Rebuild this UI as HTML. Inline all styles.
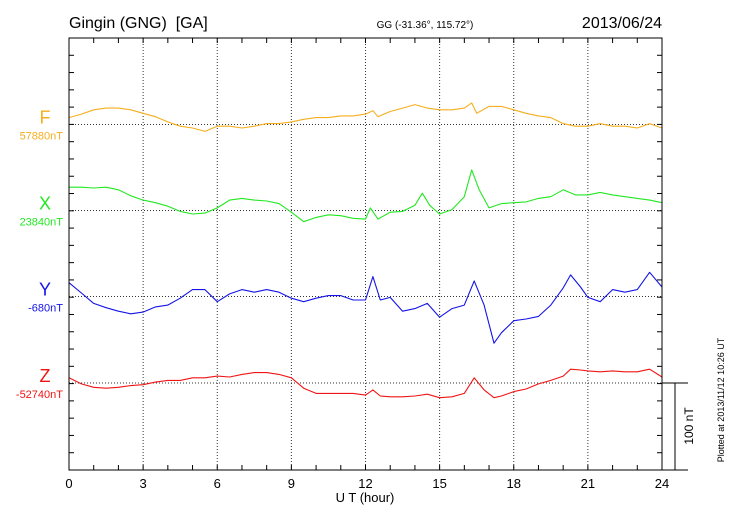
<!DOCTYPE html>
<html><head><meta charset="utf-8"><style>
body{margin:0;background:#fff;}
svg{display:block;font-family:"Liberation Sans",sans-serif;}
text{white-space:pre;}
</style></head><body>
<svg id="chart" width="730" height="520" viewBox="0 0 730 520" xmlns="http://www.w3.org/2000/svg">
<rect width="730" height="520" fill="#fff"/>
<text x="69" y="28" font-size="16" xml:space="preserve">Gingin (GNG)  [GA]</text>
<text x="425" y="28" font-size="10" text-anchor="middle">GG (-31.36°, 115.72°)</text>
<text x="662" y="28" font-size="16" text-anchor="end">2013/06/24</text>
<text x="365" y="502" font-size="13" text-anchor="middle">U T (hour)</text>
<text transform="translate(724,400) rotate(-90)" font-size="9" text-anchor="middle">Plotted at 2013/11/12 10:26 UT</text>
<text transform="translate(693,426) rotate(-90)" font-size="12" text-anchor="middle">100 nT</text>
<g id="grid"></g><g id="series"></g><g id="axes"></g>
</svg>
<script>
const hoursTicks = ["0","3","6","9","12","15","18","21","24"];
const seriesNames = ["F","X","Y","Z"];
const baseLabels = ["57880nT","23840nT","-680nT","-52740nT"];
const fTimes = [0,0.5,1,1.5,2,2.5,3,3.5,4,4.5,5,5.5,6,6.5,7,7.5,8,8.5,9,9.5,10,10.5,11,11.5,12,12.3,12.5,13,13.5,14,14.5,15,15.5,16,16.3,16.5,17,17.5,18,18.5,19,19.5,20,20.5,21,21.5,22,22.5,23,23.5,24];
const fValues = [8,12,17,19,19,17,13,9,3,-2,-4,-8,-2,-2,-4,-2,1,1,3,6,8,8,10,10,12,16,9,15,19,23,19,17,17,19,25,13,21,21,17,13,10,8,1,-2,-2,1,-2,-2,-4,1,-4];
const xTimes = [0,0.5,1,1.5,2,2.5,3,3.5,4,4.5,5,5.5,6,6.5,7,7.5,8,8.5,9,9.5,10,10.5,11,11.5,12,12.2,12.5,13,13.5,14,14.3,14.6,15,15.5,16,16.3,16.6,17,17.5,18,18.5,19,19.5,20,20.5,21,21.5,22,22.5,23,23.5,24];
const xValues = [27,27,26,27,24,17,12,9,5,-1,-4,-3,3,12,14,12,11,8,-2,-13,-8,-5,-6,-9,-10,3,-10,-2,-1,6,20,6,-4,1,16,47,24,3,8,9,10,14,16,24,18,18,21,18,16,14,12,9];
const yzTimes = [0,0.5,1,1.5,2,2.5,3,3.5,4,4.5,5,5.5,6,6.5,7,7.5,8,8.5,9,9.5,10,10.5,11,11.5,12,12.3,12.6,13,13.5,14,14.5,15,15.5,16,16.4,16.8,17.2,17.5,18,18.5,19,19.5,20,20.3,20.7,21,21.5,22,22.5,23,23.5,24];
const yValues = [16,4,-8,-13,-17,-20,-18,-12,-10,-2,8,8,-6,3,8,5,8,5,-2,-6,-2,1,1,-4,-4,23,-4,-1,-17,-14,-8,-24,-14,-10,18,-10,-54,-42,-28,-26,-23,-10,10,25,11,-1,-6,8,5,8,28,11];
const zValues = [6,-1,-5,-6,-5,-3,-2,1,3,3,6,6,8,7,10,12,12,10,6,-6,-12,-12,-12,-12,-14,-8,-15,-16,-16,-15,-13,-17,-16,-12,6,-8,-17,-15,-10,-7,-1,3,8,16,15,14,13,14,13,13,16,7];

const L=69,R=662,T=38,B=470,pxPerNT=0.864;
const bases=[124.5,210.5,296.5,383];
const colors=["#f5ae1e","#22e822","#1414e6","#f01414"];
const xs=h=>L+(R-L)*h/24;
const ys=(i,v)=>bases[i]-v*pxPerNT;
const NS="http://www.w3.org/2000/svg";
function mk(tag,attrs,parent){const e=document.createElementNS(NS,tag);for(const k in attrs)e.setAttribute(k,attrs[k]);parent.appendChild(e);return e;}
const grid=document.getElementById('grid'),ser=document.getElementById('series'),ax=document.getElementById('axes');
hoursTicks.forEach((t,i)=>{const h=+t;
 if(h>0&&h<24){const g=mk('line',{x1:xs(h),x2:xs(h),y1:T,y2:B,stroke:'#333','stroke-width':1,'stroke-dasharray':'1,2'},grid);
 
 }
 const lb=mk('text',{x:xs(h),y:488,'font-size':13,'text-anchor':'middle'},ax);lb.textContent=t;
 
 
});
bases.forEach((b,i)=>{
 const g=mk('line',{x1:L,x2:R,y1:b,y2:b,stroke:'#333','stroke-width':1,'stroke-dasharray':'1,2'},grid);
 
 
 const n=mk('text',{x:45,y:b-1,'font-size':18,'text-anchor':'middle',fill:colors[i]},ax);n.textContent=seriesNames[i];
 
 
 const bl=mk('text',{x:63,y:b+15,'font-size':11,'text-anchor':'end',fill:colors[i]},ax);bl.textContent=baseLabels[i];
 
 
});
const data=[[fTimes,fValues],[xTimes,xValues],[yzTimes,yValues],[yzTimes,zValues]];
data.forEach((d,i)=>{
 const pts=d[0].map((t,j)=>xs(t).toFixed(1)+','+ys(i,d[1][j]).toFixed(1)).join(' ');
 const p=mk('polyline',{points:pts,fill:'none',stroke:colors[i],'stroke-width':1.1,'stroke-linejoin':'round'},ser);
 
 
});
const fr=mk('rect',{x:L,y:T,width:R-L,height:B-T,fill:'none',stroke:'#000','stroke-width':1},ax);


for(let h=1;h<24;h++){
 mk('line',{x1:xs(h),x2:xs(h),y1:T,y2:T+5,stroke:'#000'},ax);
 mk('line',{x1:xs(h),x2:xs(h),y1:B,y2:B-5,stroke:'#000'},ax);
}
for(let k=1;k<25;k++){const y=T+k*(B-T)/25;
 mk('line',{x1:L,x2:L+5,y1:y,y2:y,stroke:'#000'},ax);
 mk('line',{x1:R,x2:R-5,y1:y,y2:y,stroke:'#000'},ax);
}
const sb=mk('path',{d:`M${R} ${bases[3]} H688 M675 ${bases[3]} V${B} M${R} ${B} H688`,stroke:'#000',fill:'none','stroke-width':1},ax);


</script>
</body></html>
